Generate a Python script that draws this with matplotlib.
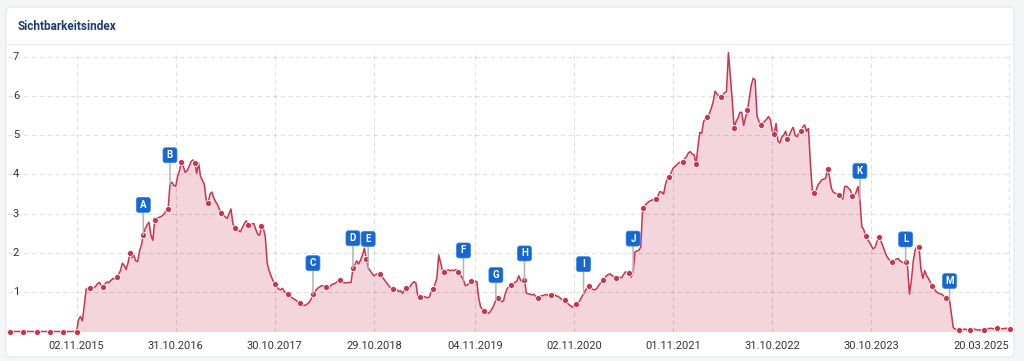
import matplotlib
matplotlib.use('Agg')
import matplotlib.pyplot as plt
import matplotlib.dates as mdates
import matplotlib.transforms as mtrans
from matplotlib.patches import FancyBboxPatch
from matplotlib.lines import Line2D
import pandas as pd

# ---------------- data ----------------
start_date = '2015-02-23'   # weekly values (Mondays)
values = (
    [0.0] * 37 +
    [0.30, 0.38, 0.27, 0.65, 1.08, 1.08, 1.10] +
    [1.10, 1.12, 1.15, 1.22, 1.25, 1.17, 1.14, 1.22, 1.26, 1.25, 1.30, 1.35, 1.33, 1.38] +
    [1.45, 1.55, 1.74, 1.68, 1.58, 1.75, 2.00, 1.88, 1.95, 1.80, 1.78, 2.05, 2.20, 2.46] +
    [2.62, 2.72, 2.78, 2.45, 2.32, 2.84, 2.88] +
    [2.90, 2.92, 2.95, 3.00, 3.08, 3.11, 3.75, 3.80, 3.72, 3.70, 3.95, 4.10] +
    [4.32, 4.20, 4.05, 4.10, 4.20, 4.32, 4.37, 4.30, 4.03, 4.30] +
    [3.95, 3.85, 3.75, 3.35, 3.26, 3.50, 3.55, 3.40, 3.30, 3.22] +
    [3.10, 3.02, 2.97, 2.92, 2.88, 3.00, 3.12, 2.75, 2.63, 2.60] +
    [2.57, 2.54, 2.65, 2.75, 2.82, 2.72, 2.70, 2.74, 2.75, 2.60] +
    [2.48, 2.45, 2.69, 2.62, 2.42, 1.74, 1.55, 1.42, 1.30, 1.20] +
    [1.15, 1.08, 1.06, 1.10, 1.02, 0.97, 0.95, 0.90, 0.86, 0.83] +
    [0.80, 0.76, 0.72, 0.68, 0.66, 0.67, 0.70, 0.74, 0.82, 0.95] +
    [1.00, 1.08, 1.12, 1.15, 1.17, 1.15, 1.14, 1.12, 1.15, 1.20] +
    [1.21, 1.24, 1.28, 1.31, 1.28, 1.24, 1.24, 1.24, 1.25, 1.25] +
    [1.61, 1.70, 1.80, 1.72, 1.82, 1.95, 2.12, 1.85, 1.62, 1.55] +
    [1.48, 1.42, 1.45, 1.48, 1.46, 1.40, 1.35, 1.28, 1.22, 1.15] +
    [1.10, 1.07, 1.10, 1.07, 1.02, 1.04, 0.97, 1.05, 1.11, 1.12] +
    [1.14, 1.22, 1.27, 1.24, 0.92, 0.89, 0.90, 0.89, 0.88, 0.86] +
    [0.87, 1.00, 1.08, 1.20, 1.35, 1.95, 1.75, 1.55, 1.52, 1.55] +
    [1.57, 1.55, 1.56, 1.55, 1.58, 1.52, 1.45, 1.40, 1.30, 1.17] +
    [1.18, 1.23, 1.28, 1.29, 1.28, 1.27, 0.85, 0.62, 0.57, 0.53] +
    [0.50, 0.46, 0.50, 0.58, 0.68, 0.80, 0.85, 0.82, 0.76, 0.78] +
    [0.98, 1.10, 1.15, 1.18, 1.20, 1.25, 1.28, 1.42, 1.30, 1.25] +
    [1.30, 0.98, 0.96, 0.95, 0.93, 0.95, 0.88, 0.86, 0.90, 0.91] +
    [0.92, 0.94, 0.93, 0.92, 0.93, 0.97, 0.93, 0.90, 0.88, 0.84] +
    [0.80, 0.79, 0.75, 0.70, 0.66, 0.62, 0.67, 0.70, 0.72, 0.78] +
    [0.88, 0.95, 1.05, 1.12, 1.16, 1.10, 1.07, 1.06, 1.10, 1.18] +
    [1.24, 1.30, 1.35, 1.42, 1.45, 1.47, 1.42, 1.40, 1.37, 1.40] +
    [1.38, 1.37, 1.45, 1.52, 1.50, 1.48, 1.38, 1.50, 2.03, 2.05] +
    [2.07, 2.15, 3.14, 3.20, 3.25, 3.30, 3.33, 3.35, 3.36, 3.37] +
    [3.45, 3.56, 3.55, 3.50, 3.75, 3.90, 3.94, 4.05, 4.16, 4.20] +
    [4.25, 4.30, 4.31, 4.32, 4.40, 4.45, 4.55, 4.58, 4.52, 4.50] +
    [4.26, 4.70, 5.07, 5.05, 5.35, 5.42, 5.45, 5.55, 5.68, 5.85] +
    [6.12, 6.05, 6.00, 5.98, 6.02, 6.08, 6.11, 7.10, 6.50, 5.90] +
    [5.17, 5.35, 5.43, 5.58, 5.58, 5.25, 5.45, 5.63, 5.95, 6.28] +
    [6.45, 6.40, 5.50, 5.35, 5.26, 5.30, 5.35, 5.40, 5.47, 5.40] +
    [5.10, 5.03, 5.30, 4.85, 4.80, 4.95, 5.00, 5.10, 4.91, 5.00] +
    [5.12, 5.20, 5.00, 4.96, 5.05, 5.11, 5.20, 5.26, 5.10, 5.17] +
    [4.30, 3.60, 3.52, 3.60, 3.73, 3.80, 3.86, 3.88, 3.90, 4.13] +
    [3.95, 3.65, 3.55, 3.52, 3.50, 3.48, 3.45, 3.37, 3.69, 3.70] +
    [3.65, 3.60, 3.45, 3.42, 3.55, 3.69, 3.35, 2.67, 2.60, 2.42] +
    [2.35, 2.27, 2.18, 2.10, 2.15, 2.30, 2.41, 2.30, 2.18, 2.05] +
    [1.92, 1.85, 1.80, 1.78, 1.80, 1.84, 1.86, 1.80, 1.77, 1.74] +
    [1.76, 1.65, 0.95, 1.30, 1.80, 2.07, 2.18, 2.16, 1.60, 1.35] +
    [1.55, 1.42, 1.35, 1.25, 1.17, 1.08, 1.02, 0.98, 0.96, 0.95] +
    [0.90, 0.86, 0.84, 0.80, 0.45, 0.10, 0.06, 0.05, 0.04, 0.04] +
    [0.05, 0.06, 0.05, 0.05, 0.04, 0.05, 0.06, 0.05, 0.04, 0.04] +
    [0.04, 0.05, 0.06, 0.07, 0.08, 0.08, 0.07, 0.07, 0.08, 0.08] +
    [0.07, 0.07, 0.08, 0.08, 0.07, 0.07]
)

event_letters = ['A', 'B', 'C', 'D', 'E', 'F', 'G', 'H', 'I', 'J', 'K', 'L', 'M']
event_weeks = [71, 85, 160, 181, 189, 239, 256, 271, 302, 328, 447, 471, 494]

tick_dates = ['2015-11-02', '2016-10-31', '2017-10-30', '2018-10-29', '2019-11-04',
              '2020-11-02', '2021-11-01', '2022-10-31', '2023-10-30', '2025-03-20']
tick_labels = ['02.11.2015', '31.10.2016', '30.10.2017', '29.10.2018', '04.11.2019',
               '02.11.2020', '01.11.2021', '31.10.2022', '30.10.2023', '20.03.2025']
y_ticks = [1, 2, 3, 4, 5, 6, 7]
title = 'Sichtbarkeitsindex'

# ---------------- style ----------------
LINE = '#c8354d'
FILL = '#f3d5db'
BLUE = '#1767d2'
FONT = ['Roboto', 'DejaVu Sans']
# marker positions (every ~7 weeks)
dot_idx = (list(range(1, 72, 7)) + list(range(77, 148, 7)) + list(range(153, 224, 7)) +
           list(range(229, 293, 7)) + list(range(298, 362, 7)) + list(range(367, 431, 7)) +
           list(range(436, 500, 7)) + list(range(505, 527, 7)))
box_offsets = [30, 29, 31, 30, 29, 30, 25, 27, 30, 34, 29, 23, 19]  # pixels above point

W, H = 1024, 361
fig = plt.figure(figsize=(W / 100, H / 100), dpi=100)
fig.patch.set_facecolor('#f4f5f7')
ident = mtrans.IdentityTransform()

card = FancyBboxPatch((6, H - 357), 1008, 350, boxstyle='round,pad=0,rounding_size=5',
                      transform=ident, fc='white', ec='#e6e6e6', lw=0.8, zorder=-5)
fig.add_artist(card)
fig.add_artist(Line2D([6, 1014], [H - 44, H - 44], transform=ident, color='#ededed', lw=1.0, zorder=-4))
fig.text(18 / W, 1 - 26 / H, title, fontsize=8.5, fontweight='bold', color='#1d3b6e',
         va='center', ha='left', family=FONT)

ax = fig.add_axes([8 / W, 1 - 331.5 / H, (1012 - 8) / W, (331.5 - 50.7) / H])
ax.set_facecolor('none')
for s in ax.spines.values():
    s.set_visible(False)

dates = pd.date_range(start_date, periods=len(values), freq='7D')
tdates = pd.to_datetime(tick_dates)

ax.fill_between(dates, values, 0, color=FILL, lw=0, zorder=1)
for v in y_ticks:
    ax.axhline(v, color='black', alpha=0.12, lw=0.8, ls=(0, (4, 3)), zorder=1.5)
for d in tdates:
    ax.axvline(d, color='black', alpha=0.12, lw=0.8, ls=(0, (4, 3)), zorder=1.5)

ax.plot(dates, values, color=LINE, lw=1.1, zorder=3, clip_on=False,
        marker='o', markevery=dot_idx, ms=4.4, mfc=LINE, mec='white', mew=0.6)

blend = mtrans.blended_transform_factory(ax.transAxes, ax.transData)
for v in y_ticks:
    ax.text(0.008, v, str(v), transform=blend, ha='center', va='center',
            fontsize=8, color='#333333', family=FONT, zorder=2)

ax.set_xticks(tdates)
ax.set_xticklabels(tick_labels)
ax.tick_params(axis='x', length=0, pad=7, labelsize=8, labelcolor='#333333')
xlabs = ax.get_xticklabels()
for lab in xlabs:
    lab.set_family(FONT)
xlabs[-1].set_horizontalalignment('right')
ax.set_yticks([])

for letter, wk, off in zip(event_letters, event_weeks, box_offsets):
    x = dates[wk]
    y = values[wk]
    ax.annotate('', xy=(x, y), xytext=(0, off - 7), textcoords='offset pixels',
                arrowprops=dict(arrowstyle='-', color='#b3b3b3', lw=1.1, shrinkA=0, shrinkB=0),
                zorder=4, annotation_clip=False)
    trans = fig.dpi_scale_trans + mtrans.ScaledTranslation(mdates.date2num(x.to_pydatetime()), y, ax.transData)
    box = FancyBboxPatch((-0.07, off / 100 - 0.075), 0.14, 0.15,
                         boxstyle='round,pad=0,rounding_size=0.025',
                         transform=trans, fc=BLUE, ec='#3b82e0', lw=0.5, zorder=5, clip_on=False)
    ax.add_artist(box)
    ax.annotate(letter, xy=(x, y), xytext=(0, off), textcoords='offset pixels',
                ha='center', va='center', color='white', fontsize=7, fontweight='bold',
                family=FONT, zorder=6, annotation_clip=False)

ax.set_xlim(dates[0], dates[0] + pd.Timedelta(days=526.8 * 7))
ax.set_ylim(0, 7.15)

fig.savefig('out.png', dpi=100, facecolor=fig.get_facecolor())
